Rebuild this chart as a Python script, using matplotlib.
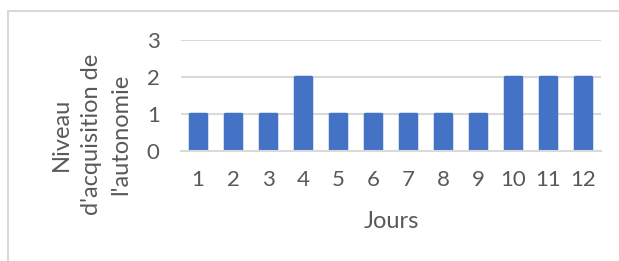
import matplotlib.pyplot as plt
from matplotlib.patches import Rectangle

jours = ["1", "2", "3", "4", "5", "6", "7", "8", "9", "10", "11", "12"]
niveau = [1, 1, 1, 2, 1, 1, 1, 1, 1, 2, 2, 2]

W, H = 619, 261
fig = plt.figure(figsize=(W / 100, H / 100), dpi=100)
plt.rcParams['font.family'] = ['Lato', 'DejaVu Sans']
txt = '#595959'
grid = '#d9d9d9'
blue = '#4472c4'

# chart border (only top and left visible in the crop)
fig.patches.append(Rectangle((7.5 / W, -0.1), 1.2, (H - 10.5) / H + 0.1,
                             transform=fig.transFigure, fill=False,
                             edgecolor=grid, linewidth=1.5))

ax = fig.add_axes([180.5 / W, 1 - 151 / H, 420 / W, 111 / H])
x = list(range(len(jours)))
ax.bar(x, niveau, width=0.44, color=blue, edgecolor=blue, linewidth=2.5,
       joinstyle='round', zorder=2)
ax.set_xlim(-0.5, len(jours) - 0.5)
ax.set_ylim(0, 3)
ax.set_yticks([0, 1, 2, 3])
for y in [1, 2, 3]:
    ax.axhline(y, color=grid, linewidth=1.5, zorder=1)
ax.axhline(0, color=grid, linewidth=1.5, zorder=3, clip_on=False)

ax.set_xticks(x)
ax.set_xticklabels(jours)
ax.tick_params(length=0, labelsize=16, colors=txt)
ax.tick_params(axis='x', pad=14)
ax.tick_params(axis='y', pad=15)
for s in ax.spines.values():
    s.set_visible(False)

fig.text(391 / W, 1 - 222 / H, "Jours", ha='center', va='center',
         fontsize=17, color=txt)
fig.text(91 / W, 1 - 134 / H, "Niveau\nd'acquisition de\nl'autonomie",
         ha='center', va='center', rotation=90, fontsize=17, color=txt,
         linespacing=1.5, multialignment='center')

fig.savefig('out.png', dpi=100)
